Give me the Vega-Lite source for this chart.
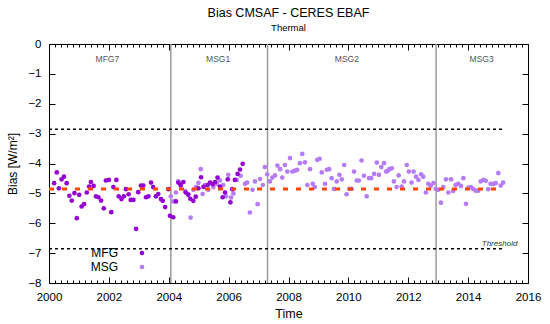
{
  "$schema": "https://vega.github.io/schema/vega-lite/v6.json",
  "width": 479,
  "height": 239,
  "autosize": "none",
  "padding": {"left": 49, "top": 44, "right": 22, "bottom": 41},
  "background": "white",
  "title": {"text": "Bias CMSAF - CERES EBAF", "subtitle": "Thermal", "fontSize": 12.5, "fontWeight": "normal", "font": "Liberation Sans", "subtitleFont": "Liberation Sans", "subtitleFontSize": 9.5, "subtitleColor": "black", "color": "black", "offset": 6, "subtitlePadding": 3, "anchor": "middle"},
  "config": {
    "view": {"stroke": "black", "strokeWidth": 1},
    "axis": {"domain": false, "grid": false, "labelFont": "Liberation Sans", "titleFont": "Liberation Sans", "labelColor": "black", "tickColor": "black", "titleColor": "black", "titleFontWeight": "normal", "tickWidth": 1}
  },
  "datasets": {
    "points": [
      {"year": 2004.07, "bias": -5.10, "sensor": "MSG"},
      {"year": 2004.15, "bias": -5.27, "sensor": "MSG"},
      {"year": 2004.24, "bias": -4.97, "sensor": "MSG"},
      {"year": 2004.32, "bias": -4.60, "sensor": "MSG"},
      {"year": 2004.40, "bias": -4.75, "sensor": "MSG"},
      {"year": 2004.54, "bias": -4.92, "sensor": "MSG"},
      {"year": 2004.65, "bias": -5.02, "sensor": "MSG"},
      {"year": 2004.73, "bias": -5.81, "sensor": "MSG"},
      {"year": 2004.82, "bias": -4.88, "sensor": "MSG"},
      {"year": 2004.91, "bias": -4.79, "sensor": "MSG"},
      {"year": 2004.99, "bias": -4.65, "sensor": "MSG"},
      {"year": 2005.07, "bias": -4.19, "sensor": "MSG"},
      {"year": 2005.13, "bias": -5.02, "sensor": "MSG"},
      {"year": 2005.21, "bias": -4.72, "sensor": "MSG"},
      {"year": 2005.32, "bias": -4.88, "sensor": "MSG"},
      {"year": 2005.40, "bias": -4.66, "sensor": "MSG"},
      {"year": 2005.49, "bias": -4.79, "sensor": "MSG"},
      {"year": 2005.60, "bias": -4.68, "sensor": "MSG"},
      {"year": 2005.71, "bias": -4.57, "sensor": "MSG"},
      {"year": 2005.82, "bias": -4.72, "sensor": "MSG"},
      {"year": 2005.91, "bias": -5.10, "sensor": "MSG"},
      {"year": 2005.99, "bias": -4.38, "sensor": "MSG"},
      {"year": 2006.08, "bias": -5.14, "sensor": "MSG"},
      {"year": 2006.16, "bias": -5.00, "sensor": "MSG"},
      {"year": 2006.27, "bias": -4.55, "sensor": "MSG"},
      {"year": 2006.40, "bias": -4.41, "sensor": "MSG"},
      {"year": 2006.55, "bias": -4.68, "sensor": "MSG"},
      {"year": 2006.62, "bias": -4.64, "sensor": "MSG"},
      {"year": 2006.71, "bias": -5.64, "sensor": "MSG"},
      {"year": 2006.80, "bias": -4.88, "sensor": "MSG"},
      {"year": 2006.88, "bias": -4.60, "sensor": "MSG"},
      {"year": 2006.97, "bias": -5.36, "sensor": "MSG"},
      {"year": 2007.05, "bias": -4.52, "sensor": "MSG"},
      {"year": 2007.14, "bias": -4.72, "sensor": "MSG"},
      {"year": 2007.21, "bias": -4.12, "sensor": "MSG"},
      {"year": 2007.29, "bias": -4.36, "sensor": "MSG"},
      {"year": 2007.38, "bias": -4.60, "sensor": "MSG"},
      {"year": 2007.46, "bias": -4.47, "sensor": "MSG"},
      {"year": 2007.55, "bias": -4.40, "sensor": "MSG"},
      {"year": 2007.63, "bias": -4.07, "sensor": "MSG"},
      {"year": 2007.72, "bias": -4.19, "sensor": "MSG"},
      {"year": 2007.79, "bias": -4.47, "sensor": "MSG"},
      {"year": 2007.88, "bias": -4.05, "sensor": "MSG"},
      {"year": 2007.96, "bias": -4.27, "sensor": "MSG"},
      {"year": 2008.05, "bias": -3.82, "sensor": "MSG"},
      {"year": 2008.13, "bias": -4.27, "sensor": "MSG"},
      {"year": 2008.22, "bias": -4.24, "sensor": "MSG"},
      {"year": 2008.29, "bias": -4.21, "sensor": "MSG"},
      {"year": 2008.38, "bias": -3.99, "sensor": "MSG"},
      {"year": 2008.46, "bias": -3.68, "sensor": "MSG"},
      {"year": 2008.55, "bias": -3.96, "sensor": "MSG"},
      {"year": 2008.63, "bias": -4.72, "sensor": "MSG"},
      {"year": 2008.72, "bias": -4.19, "sensor": "MSG"},
      {"year": 2008.81, "bias": -4.68, "sensor": "MSG"},
      {"year": 2008.88, "bias": -4.79, "sensor": "MSG"},
      {"year": 2008.96, "bias": -3.88, "sensor": "MSG"},
      {"year": 2009.04, "bias": -3.84, "sensor": "MSG"},
      {"year": 2009.11, "bias": -4.30, "sensor": "MSG"},
      {"year": 2009.22, "bias": -4.68, "sensor": "MSG"},
      {"year": 2009.28, "bias": -4.21, "sensor": "MSG"},
      {"year": 2009.36, "bias": -4.19, "sensor": "MSG"},
      {"year": 2009.44, "bias": -4.49, "sensor": "MSG"},
      {"year": 2009.52, "bias": -4.85, "sensor": "MSG"},
      {"year": 2009.61, "bias": -4.60, "sensor": "MSG"},
      {"year": 2009.70, "bias": -4.38, "sensor": "MSG"},
      {"year": 2009.78, "bias": -4.53, "sensor": "MSG"},
      {"year": 2009.86, "bias": -4.05, "sensor": "MSG"},
      {"year": 2009.94, "bias": -5.03, "sensor": "MSG"},
      {"year": 2010.03, "bias": -4.85, "sensor": "MSG"},
      {"year": 2010.11, "bias": -4.85, "sensor": "MSG"},
      {"year": 2010.19, "bias": -4.27, "sensor": "MSG"},
      {"year": 2010.28, "bias": -4.57, "sensor": "MSG"},
      {"year": 2010.35, "bias": -4.57, "sensor": "MSG"},
      {"year": 2010.44, "bias": -3.90, "sensor": "MSG"},
      {"year": 2010.52, "bias": -4.41, "sensor": "MSG"},
      {"year": 2010.61, "bias": -5.10, "sensor": "MSG"},
      {"year": 2010.69, "bias": -4.49, "sensor": "MSG"},
      {"year": 2010.76, "bias": -4.49, "sensor": "MSG"},
      {"year": 2010.86, "bias": -4.35, "sensor": "MSG"},
      {"year": 2010.95, "bias": -3.97, "sensor": "MSG"},
      {"year": 2011.02, "bias": -4.38, "sensor": "MSG"},
      {"year": 2011.10, "bias": -4.12, "sensor": "MSG"},
      {"year": 2011.19, "bias": -3.99, "sensor": "MSG"},
      {"year": 2011.26, "bias": -4.27, "sensor": "MSG"},
      {"year": 2011.31, "bias": -4.25, "sensor": "MSG"},
      {"year": 2011.37, "bias": -4.19, "sensor": "MSG"},
      {"year": 2011.45, "bias": -4.16, "sensor": "MSG"},
      {"year": 2011.52, "bias": -4.60, "sensor": "MSG"},
      {"year": 2011.61, "bias": -4.79, "sensor": "MSG"},
      {"year": 2011.68, "bias": -4.40, "sensor": "MSG"},
      {"year": 2011.78, "bias": -4.77, "sensor": "MSG"},
      {"year": 2011.86, "bias": -4.60, "sensor": "MSG"},
      {"year": 2011.95, "bias": -4.05, "sensor": "MSG"},
      {"year": 2012.02, "bias": -4.27, "sensor": "MSG"},
      {"year": 2012.11, "bias": -4.64, "sensor": "MSG"},
      {"year": 2012.18, "bias": -4.27, "sensor": "MSG"},
      {"year": 2012.26, "bias": -4.44, "sensor": "MSG"},
      {"year": 2012.34, "bias": -4.55, "sensor": "MSG"},
      {"year": 2012.43, "bias": -4.36, "sensor": "MSG"},
      {"year": 2012.50, "bias": -4.44, "sensor": "MSG"},
      {"year": 2012.59, "bias": -4.97, "sensor": "MSG"},
      {"year": 2012.67, "bias": -4.68, "sensor": "MSG"},
      {"year": 2012.75, "bias": -4.75, "sensor": "MSG"},
      {"year": 2012.84, "bias": -4.66, "sensor": "MSG"},
      {"year": 2012.92, "bias": -4.85, "sensor": "MSG"},
      {"year": 2013.00, "bias": -4.88, "sensor": "MSG"},
      {"year": 2013.09, "bias": -5.31, "sensor": "MSG"},
      {"year": 2013.17, "bias": -4.79, "sensor": "MSG"},
      {"year": 2013.26, "bias": -4.53, "sensor": "MSG"},
      {"year": 2013.34, "bias": -4.97, "sensor": "MSG"},
      {"year": 2013.43, "bias": -4.53, "sensor": "MSG"},
      {"year": 2013.50, "bias": -4.92, "sensor": "MSG"},
      {"year": 2013.58, "bias": -4.72, "sensor": "MSG"},
      {"year": 2013.67, "bias": -4.68, "sensor": "MSG"},
      {"year": 2013.76, "bias": -4.75, "sensor": "MSG"},
      {"year": 2013.84, "bias": -4.49, "sensor": "MSG"},
      {"year": 2013.93, "bias": -5.35, "sensor": "MSG"},
      {"year": 2014.01, "bias": -4.81, "sensor": "MSG"},
      {"year": 2014.09, "bias": -4.79, "sensor": "MSG"},
      {"year": 2014.17, "bias": -4.85, "sensor": "MSG"},
      {"year": 2014.25, "bias": -4.91, "sensor": "MSG"},
      {"year": 2014.34, "bias": -4.91, "sensor": "MSG"},
      {"year": 2014.42, "bias": -4.60, "sensor": "MSG"},
      {"year": 2014.51, "bias": -4.55, "sensor": "MSG"},
      {"year": 2014.59, "bias": -4.58, "sensor": "MSG"},
      {"year": 2014.67, "bias": -4.86, "sensor": "MSG"},
      {"year": 2014.75, "bias": -4.68, "sensor": "MSG"},
      {"year": 2014.84, "bias": -4.68, "sensor": "MSG"},
      {"year": 2014.92, "bias": -4.66, "sensor": "MSG"},
      {"year": 2015.01, "bias": -4.32, "sensor": "MSG"},
      {"year": 2015.09, "bias": -4.74, "sensor": "MSG"},
      {"year": 2015.17, "bias": -4.64, "sensor": "MSG"},
      {"year": 2000.17, "bias": -4.66, "sensor": "MFG"},
      {"year": 2000.26, "bias": -4.30, "sensor": "MFG"},
      {"year": 2000.33, "bias": -4.83, "sensor": "MFG"},
      {"year": 2000.42, "bias": -4.53, "sensor": "MFG"},
      {"year": 2000.50, "bias": -4.44, "sensor": "MFG"},
      {"year": 2000.59, "bias": -4.66, "sensor": "MFG"},
      {"year": 2000.68, "bias": -5.08, "sensor": "MFG"},
      {"year": 2000.76, "bias": -5.24, "sensor": "MFG"},
      {"year": 2000.85, "bias": -4.99, "sensor": "MFG"},
      {"year": 2000.93, "bias": -5.83, "sensor": "MFG"},
      {"year": 2001.01, "bias": -5.05, "sensor": "MFG"},
      {"year": 2001.09, "bias": -5.44, "sensor": "MFG"},
      {"year": 2001.17, "bias": -5.36, "sensor": "MFG"},
      {"year": 2001.26, "bias": -4.97, "sensor": "MFG"},
      {"year": 2001.34, "bias": -4.77, "sensor": "MFG"},
      {"year": 2001.40, "bias": -4.62, "sensor": "MFG"},
      {"year": 2001.49, "bias": -4.75, "sensor": "MFG"},
      {"year": 2001.57, "bias": -5.10, "sensor": "MFG"},
      {"year": 2001.65, "bias": -5.13, "sensor": "MFG"},
      {"year": 2001.74, "bias": -5.24, "sensor": "MFG"},
      {"year": 2001.83, "bias": -5.50, "sensor": "MFG"},
      {"year": 2001.90, "bias": -4.57, "sensor": "MFG"},
      {"year": 2002.00, "bias": -4.55, "sensor": "MFG"},
      {"year": 2002.08, "bias": -5.63, "sensor": "MFG"},
      {"year": 2002.15, "bias": -4.79, "sensor": "MFG"},
      {"year": 2002.25, "bias": -4.55, "sensor": "MFG"},
      {"year": 2002.33, "bias": -5.10, "sensor": "MFG"},
      {"year": 2002.42, "bias": -5.19, "sensor": "MFG"},
      {"year": 2002.50, "bias": -5.10, "sensor": "MFG"},
      {"year": 2002.57, "bias": -4.86, "sensor": "MFG"},
      {"year": 2002.66, "bias": -5.03, "sensor": "MFG"},
      {"year": 2002.73, "bias": -5.22, "sensor": "MFG"},
      {"year": 2002.82, "bias": -5.22, "sensor": "MFG"},
      {"year": 2002.91, "bias": -6.19, "sensor": "MFG"},
      {"year": 2002.98, "bias": -4.96, "sensor": "MFG"},
      {"year": 2003.07, "bias": -4.74, "sensor": "MFG"},
      {"year": 2003.15, "bias": -4.74, "sensor": "MFG"},
      {"year": 2003.24, "bias": -5.13, "sensor": "MFG"},
      {"year": 2003.32, "bias": -5.10, "sensor": "MFG"},
      {"year": 2003.41, "bias": -4.64, "sensor": "MFG"},
      {"year": 2003.48, "bias": -4.79, "sensor": "MFG"},
      {"year": 2003.57, "bias": -5.10, "sensor": "MFG"},
      {"year": 2003.65, "bias": -5.02, "sensor": "MFG"},
      {"year": 2003.74, "bias": -5.19, "sensor": "MFG"},
      {"year": 2003.80, "bias": -5.25, "sensor": "MFG"},
      {"year": 2003.88, "bias": -5.46, "sensor": "MFG"},
      {"year": 2003.99, "bias": -4.86, "sensor": "MFG"},
      {"year": 2004.04, "bias": -5.75, "sensor": "MFG"},
      {"year": 2004.15, "bias": -5.80, "sensor": "MFG"},
      {"year": 2004.24, "bias": -5.27, "sensor": "MFG"},
      {"year": 2004.32, "bias": -4.64, "sensor": "MFG"},
      {"year": 2004.40, "bias": -4.72, "sensor": "MFG"},
      {"year": 2004.49, "bias": -4.62, "sensor": "MFG"},
      {"year": 2004.57, "bias": -4.97, "sensor": "MFG"},
      {"year": 2004.65, "bias": -5.05, "sensor": "MFG"},
      {"year": 2004.72, "bias": -5.18, "sensor": "MFG"},
      {"year": 2004.82, "bias": -5.25, "sensor": "MFG"},
      {"year": 2004.90, "bias": -5.11, "sensor": "MFG"},
      {"year": 2004.99, "bias": -4.83, "sensor": "MFG"},
      {"year": 2005.08, "bias": -4.46, "sensor": "MFG"},
      {"year": 2005.16, "bias": -4.78, "sensor": "MFG"},
      {"year": 2005.30, "bias": -4.72, "sensor": "MFG"},
      {"year": 2005.38, "bias": -4.64, "sensor": "MFG"},
      {"year": 2005.47, "bias": -4.69, "sensor": "MFG"},
      {"year": 2005.55, "bias": -4.62, "sensor": "MFG"},
      {"year": 2005.63, "bias": -4.47, "sensor": "MFG"},
      {"year": 2005.71, "bias": -4.77, "sensor": "MFG"},
      {"year": 2005.80, "bias": -5.13, "sensor": "MFG"},
      {"year": 2005.88, "bias": -4.97, "sensor": "MFG"},
      {"year": 2005.97, "bias": -4.53, "sensor": "MFG"},
      {"year": 2006.06, "bias": -5.30, "sensor": "MFG"},
      {"year": 2006.12, "bias": -4.86, "sensor": "MFG"},
      {"year": 2006.21, "bias": -4.55, "sensor": "MFG"},
      {"year": 2006.30, "bias": -4.35, "sensor": "MFG"},
      {"year": 2006.38, "bias": -4.20, "sensor": "MFG"},
      {"year": 2006.47, "bias": -4.01, "sensor": "MFG"}
    ]
  },
  "resolve": {"axis": {"x": "independent", "y": "independent"}},
  "layer": [
    {
      "data": {"values": [{"year": 2004.07}, {"year": 2007.3}, {"year": 2012.93}]},
      "mark": {"type": "rule", "color": "#9a9a9a", "strokeWidth": 1.5},
      "encoding": {
        "x": {"field": "year", "type": "quantitative", "scale": {"domain": [2000, 2016], "nice": false, "zero": false},
          "axis": {"orient": "top", "values": [2000, 2002, 2004, 2006, 2008, 2010, 2012, 2014, 2016], "tickSize": -6, "labels": false, "title": null}}
      }
    },
    {
      "data": {"values": [{"start": 2000, "end": 2015.2, "bias": -2.85}, {"start": 2000, "end": 2015.2, "bias": -6.85}]},
      "mark": {"type": "rule", "color": "black", "strokeWidth": 1.5, "strokeDash": [3, 3]},
      "encoding": {
        "x": {"field": "start", "type": "quantitative", "scale": {"domain": [2000, 2016], "nice": false, "zero": false},
          "axis": {"orient": "bottom", "values": [2000.2, 2000.4, 2000.6, 2000.8, 2001, 2001.2, 2001.4, 2001.6, 2001.8, 2002.2, 2002.4, 2002.6, 2002.8, 2003, 2003.2, 2003.4, 2003.6, 2003.8, 2004.2, 2004.4, 2004.6, 2004.8, 2005, 2005.2, 2005.4, 2005.6, 2005.8, 2006.2, 2006.4, 2006.6, 2006.8, 2007, 2007.2, 2007.4, 2007.6, 2007.8, 2008.2, 2008.4, 2008.6, 2008.8, 2009, 2009.2, 2009.4, 2009.6, 2009.8, 2010.2, 2010.4, 2010.6, 2010.8, 2011, 2011.2, 2011.4, 2011.6, 2011.8, 2012.2, 2012.4, 2012.6, 2012.8, 2013, 2013.2, 2013.4, 2013.6, 2013.8, 2014.2, 2014.4, 2014.6, 2014.8, 2015, 2015.2, 2015.4, 2015.6, 2015.8], "tickSize": -3, "labels": false, "title": null}},
        "x2": {"field": "end"},
        "y": {"field": "bias", "type": "quantitative", "scale": {"domain": [-8, 0], "nice": false, "zero": false},
          "axis": {"orient": "right", "values": [0, -1, -2, -3, -4, -5, -6, -7, -8], "tickSize": -6, "labels": false, "title": null}}
      }
    },
    {
      "data": {"name": "points"},
      "mark": {"type": "circle", "size": 22, "opacity": 1},
      "encoding": {
        "x": {"field": "year", "type": "quantitative", "scale": {"domain": [2000, 2016], "nice": false, "zero": false},
          "axis": {"orient": "bottom", "values": [2000, 2002, 2004, 2006, 2008, 2010, 2012, 2014, 2016], "format": "d", "tickSize": -6, "labelPadding": 14, "labelFontSize": 11.5, "labelFlush": false, "title": "Time", "titleFontSize": 12.5, "titlePadding": 5}},
        "y": {"field": "bias", "type": "quantitative", "scale": {"domain": [-8, 0], "nice": false, "zero": false},
          "axis": {"orient": "left", "values": [0, -1, -2, -3, -4, -5, -6, -7, -8], "tickSize": -6, "labelPadding": 14, "labelFontSize": 11.5, "labelFlush": false, "title": "Bias [W/m²]", "titleFontSize": 12, "titlePadding": 8}},
        "color": {"field": "sensor", "type": "nominal", "scale": {"domain": ["MFG", "MSG"], "range": ["#9400d3", "#b57cf5"]},
          "legend": {"orient": "none", "legendX": 87, "legendY": 203, "title": null, "labelFontSize": 12, "labelFont": "Liberation Sans", "labelColor": "black", "labelAlign": "right", "labelOffset": -30, "symbolType": "circle", "symbolSize": 22, "symbolStrokeWidth": 0, "rowPadding": 2, "padding": 0}}
      }
    },
    {
      "data": {"values": [{"start": 2000, "end": 2015.2, "bias": -4.85}]},
      "mark": {"type": "rule", "color": "#ff4500", "strokeWidth": 3, "strokeDash": [5, 8]},
      "encoding": {
        "x": {"field": "start", "type": "quantitative", "scale": {"domain": [2000, 2016], "nice": false, "zero": false},
          "axis": {"orient": "top", "values": [2000.2, 2000.4, 2000.6, 2000.8, 2001, 2001.2, 2001.4, 2001.6, 2001.8, 2002.2, 2002.4, 2002.6, 2002.8, 2003, 2003.2, 2003.4, 2003.6, 2003.8, 2004.2, 2004.4, 2004.6, 2004.8, 2005, 2005.2, 2005.4, 2005.6, 2005.8, 2006.2, 2006.4, 2006.6, 2006.8, 2007, 2007.2, 2007.4, 2007.6, 2007.8, 2008.2, 2008.4, 2008.6, 2008.8, 2009, 2009.2, 2009.4, 2009.6, 2009.8, 2010.2, 2010.4, 2010.6, 2010.8, 2011, 2011.2, 2011.4, 2011.6, 2011.8, 2012.2, 2012.4, 2012.6, 2012.8, 2013, 2013.2, 2013.4, 2013.6, 2013.8, 2014.2, 2014.4, 2014.6, 2014.8, 2015, 2015.2, 2015.4, 2015.6, 2015.8], "tickSize": -3, "labels": false, "title": null}},
        "x2": {"field": "end"},
        "y": {"field": "bias", "type": "quantitative", "scale": {"domain": [-8, 0], "nice": false, "zero": false}, "axis": null}
      }
    },
    {
      "data": {"values": [{"year": 2001.95, "bias": -0.5, "label": "MFG7"}, {"year": 2005.65, "bias": -0.5, "label": "MSG1"}, {"year": 2009.95, "bias": -0.5, "label": "MSG2"}, {"year": 2014.45, "bias": -0.5, "label": "MSG3"}]},
      "mark": {"type": "text", "font": "Liberation Sans", "fontSize": 8.5, "color": "#555555", "align": "center", "baseline": "middle"},
      "encoding": {
        "x": {"field": "year", "type": "quantitative", "scale": {"domain": [2000, 2016], "nice": false, "zero": false}, "axis": null},
        "y": {"field": "bias", "type": "quantitative", "scale": {"domain": [-8, 0], "nice": false, "zero": false}, "axis": null},
        "text": {"field": "label", "type": "nominal"}
      }
    },
    {
      "data": {"values": [{"year": 2015.05, "bias": -6.68, "label": "Threshold"}]},
      "mark": {"type": "text", "font": "Liberation Sans", "fontSize": 8, "fontStyle": "italic", "color": "#333333", "align": "center", "baseline": "middle"},
      "encoding": {
        "x": {"field": "year", "type": "quantitative", "scale": {"domain": [2000, 2016], "nice": false, "zero": false}, "axis": null},
        "y": {"field": "bias", "type": "quantitative", "scale": {"domain": [-8, 0], "nice": false, "zero": false}, "axis": null},
        "text": {"field": "label", "type": "nominal"}
      }
    }
  ]
}
